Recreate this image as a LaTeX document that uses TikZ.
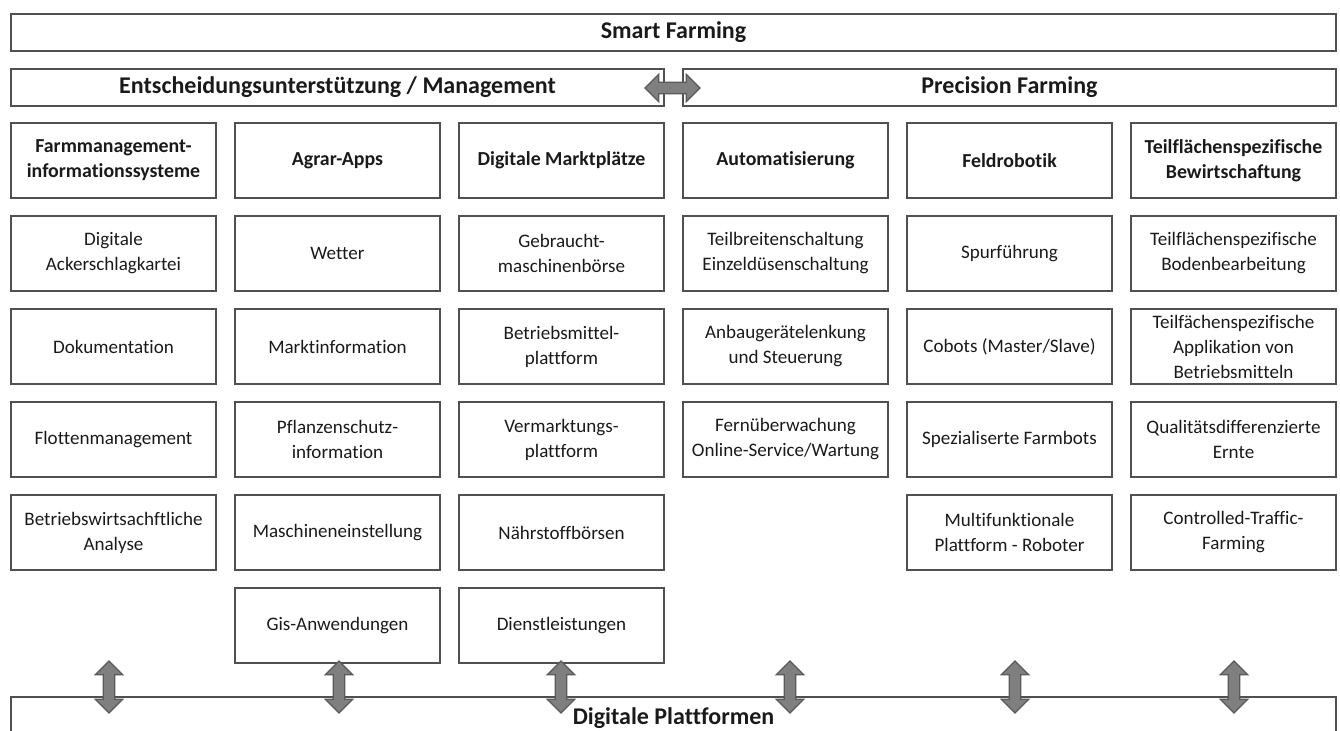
\documentclass[tikz,border=0pt]{standalone}
\usepackage{fontspec}
\setmainfont{Carlito}[Ligatures=NoCommon]
\usepackage{xcolor}
\usepackage{tikz}
\usetikzlibrary{positioning,shapes.arrows}

\definecolor{linegray}{HTML}{505050}
\definecolor{textgray}{HTML}{1A1A1A}
\definecolor{arrowfill}{HTML}{7F7F7F}
\definecolor{arrowline}{HTML}{5A5A5A}

\begin{document}
\begin{tikzpicture}[
    x=0.75pt, y=-0.75pt,
    node distance=13.5pt and 14.25pt,
    box/.style={
        rectangle, draw=linegray, line width=1.1pt, outer sep=0pt,
        minimum width=153.75pt, minimum height=56.25pt, inner sep=1pt,
        align=center, text=textgray,
        font=\fontsize{14.3pt}{18.75pt}\selectfont
    },
    titlebox/.style={box, font=\bfseries\fontsize{14.9pt}{18.75pt}\selectfont},
    bar/.style={
        rectangle, draw=linegray, line width=1.1pt, outer sep=0pt,
        minimum height=27.75pt, text=textgray,
        font=\bfseries\fontsize{18pt}{22pt}\selectfont
    },
    dblarrow/.style={
        double arrow, draw=arrowline, fill=arrowfill, line width=0.9pt,
        inner sep=3.9pt, double arrow head extend=6pt,
        minimum height=39pt
    }
]
\useasboundingbox (0,0) rectangle (1340,731);

% header bars
\node[bar, minimum width=993.75pt] (smart) at (673.5,32.5) {Smart Farming};
\node[bar, minimum width=489.75pt] (mgmt) at (337.5,87.5) {Entscheidungsunterstützung / Management};
\node[bar, minimum width=489.75pt] (precision) at (1009.5,87.5) {Precision Farming};

% column titles
\node[titlebox] (fmis) at (113.5,160.5) {Farmmanagement-\\informationssysteme};
\node[titlebox, right=of fmis] (apps) {Agrar-Apps};
\node[titlebox, right=of apps] (markt) {Digitale Marktplätze};
\node[titlebox, right=of markt] (auto) {Automatisierung};
\node[titlebox, right=of auto] (robo) {Feldrobotik};
\node[titlebox, right=of robo] (teil) {Teilflächenspezifische\\Bewirtschaftung};

% Farmmanagement
\node[box, below=of fmis] (fmis1) {Digitale\\Ackerschlagkartei};
\node[box, below=of fmis1] (fmis2) {Dokumentation};
\node[box, below=of fmis2] (fmis3) {Flottenmanagement};
\node[box, below=of fmis3] (fmis4) {Betriebswirtsachftliche\\Analyse};

% Agrar-Apps
\node[box, below=of apps] (apps1) {Wetter};
\node[box, below=of apps1] (apps2) {Marktinformation};
\node[box, below=of apps2] (apps3) {Pflanzenschutz-\\information};
\node[box, below=of apps3] (apps4) {Maschineneinstellung};
\node[box, below=of apps4] (apps5) {Gis-Anwendungen};

% Marktplaetze
\node[box, below=of markt] (markt1) {Gebraucht-\\maschinenbörse};
\node[box, below=of markt1] (markt2) {Betriebsmittel-\\plattform};
\node[box, below=of markt2] (markt3) {Vermarktungs-\\plattform};
\node[box, below=of markt3] (markt4) {Nährstoffbörsen};
\node[box, below=of markt4] (markt5) {Dienstleistungen};

% Automatisierung
\node[box, below=of auto] (auto1) {Teilbreitenschaltung\\Einzeldüsenschaltung};
\node[box, below=of auto1] (auto2) {Anbaugerätelenkung\\und Steuerung};
\node[box, below=of auto2] (auto3) {Fernüberwachung\\Online-Service/Wartung};

% Feldrobotik
\node[box, below=of robo] (robo1) {Spurführung};
\node[box, below=of robo1] (robo2) {Cobots (Master/Slave)};
\node[box, below=of robo2] (robo3) {Spezialiserte Farmbots};
\node[box, below=of robo3] (robo4) {Multifunktionale\\Plattform - Roboter};

% Teilflaechen
\node[box, below=of teil] (teil1) {Teilflächenspezifische\\Bodenbearbeitung};
\node[box, below=of teil1] (teil2) {Teilfächenspezifische\\Applikation von\\Betriebsmitteln};
\node[box, below=of teil2] (teil3) {Qualitätsdifferenzierte\\Ernte};
\node[box, below=of teil3] (teil4) {Controlled-Traffic-\\Farming};

% platform bar
\node[bar, minimum width=993.75pt, minimum height=31.5pt] (platform) at (673.5,718) {Digitale Plattformen};

% arrows
\node[dblarrow, minimum height=41.25pt] (lr) at (672.5,88) {};
\node[dblarrow, shape border rotate=90] (up1) at (109,687) {};
\node[dblarrow, shape border rotate=90] (up2) at (339,687) {};
\node[dblarrow, shape border rotate=90] (up3) at (561,687) {};
\node[dblarrow, shape border rotate=90] (up4) at (790,687) {};
\node[dblarrow, shape border rotate=90] (up5) at (1015,687) {};
\node[dblarrow, shape border rotate=90] (up6) at (1234,687) {};

\end{tikzpicture}
\end{document}
